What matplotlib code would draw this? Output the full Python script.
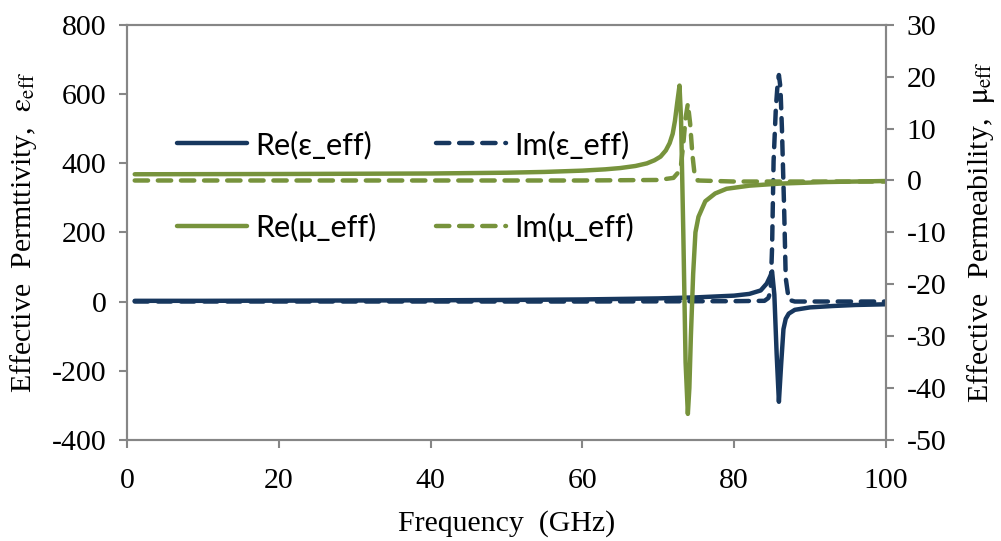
import matplotlib
matplotlib.use("Agg")
import matplotlib.pyplot as plt

plt.rcParams['font.family'] = ['Liberation Serif', 'DejaVu Serif']
plt.rcParams['mathtext.fontset'] = 'stix'
plt.rcParams['axes.unicode_minus'] = False

# permittivity (left axis)
f_re_eps = [1, 10, 20, 30, 40, 50, 60, 70, 75, 80, 82, 83.5, 84.3, 84.8, 85.0, 85.3, 85.6, 85.9,
            86.2, 86.5, 86.8, 87.2, 88, 90, 93, 96, 100]
re_eps = [2, 2, 2.5, 3, 3.5, 4.5, 6, 9, 12, 17, 22, 32, 52, 75, 87, 20, -150, -290,
          -180, -80, -50, -35, -24, -17, -13, -10, -8]

f_im_eps = [1, 20, 40, 60, 80, 84, 84.5, 84.8, 85.0, 85.2, 85.5, 85.7, 85.9, 86.1, 86.3,
            86.6, 86.8, 87.2, 88, 100]
im_eps = [0, 0, 0, 0, 1, 2, 10, 29, 155, 406, 560, 620, 655, 620, 500,
          260, 68, 5, 0, 0]

# permeability (right axis)
f_re_mu = [1, 20, 40, 50, 55, 60, 63, 65, 67, 68.5, 69.5, 70.3, 71.0, 71.5, 71.9, 72.2, 72.5,
           72.8, 73.0, 73.3, 73.6, 73.9, 74.1, 74.3, 74.6, 74.9, 75.3, 76.2, 77.5, 79, 82, 86, 92, 100]
re_mu = [1.2, 1.25, 1.35, 1.5, 1.65, 1.9, 2.15, 2.4, 2.8, 3.3, 3.9, 4.6, 5.8, 7.2, 9.0, 11.5, 15,
         18.3, 12, -10, -35, -45, -40, -30, -18, -10, -7, -4, -2.5, -1.6, -1.0, -0.6, -0.3, -0.1]

f_im_mu = [1, 20, 40, 60, 70, 72.0, 72.6, 73.0, 73.3, 73.6, 73.9, 74.2, 74.5, 74.8, 75.2, 80, 100]
im_mu = [0, 0, 0, 0, 0.1, 0.5, 1.5, 3, 7, 12, 14.8, 11, 5, 1, 0, -0.2, -0.2]

navy = '#17375E'
green = '#77933C'
grey = '#868686'

fig = plt.figure(figsize=(10.01, 5.41), dpi=100)
ax = fig.add_axes([0.127, 0.187, 0.758, 0.767])
ax2 = ax.twinx()

lw = 3.2
l1, = ax.plot(f_re_eps, re_eps, color=navy, lw=lw, solid_capstyle='round', solid_joinstyle='round')
l2, = ax.plot(f_im_eps, im_eps, color=navy, lw=lw, ls=(0, (3, 2.2)), dash_capstyle='round')
l3, = ax2.plot(f_re_mu, re_mu, color=green, lw=lw, solid_capstyle='round', solid_joinstyle='round')
l4, = ax2.plot(f_im_mu, im_mu, color=green, lw=lw, ls=(0, (3, 2.2)), dash_capstyle='round')

ax.set_xlim(0, 100)
ax.set_ylim(-400, 800)
ax2.set_ylim(-50, 30)
ax.set_xticks(range(0, 101, 20))
ax.set_yticks(range(-400, 801, 200))
ax2.set_yticks(range(-50, 31, 10))

for a in (ax, ax2):
    for s in a.spines.values():
        s.set_color(grey)
        s.set_linewidth(1.5)
    a.tick_params(labelsize=21.5, length=6, width=1.5, color=grey, pad=9)
ax.tick_params(axis='x', pad=14)

ax.set_xlabel('Frequency  (GHz)', fontsize=21.5, labelpad=12)
ax.set_ylabel(r'Effective  Permttivity,  $\mathrm{ε}_{\mathrm{eff}}$', fontsize=21.5, labelpad=9)
ax2.set_ylabel(r'Effective  Permeability,  $\mathrm{μ}_{\mathrm{eff}}$', fontsize=21.5, labelpad=13)

handles = [l1, l3, l2, l4]
labels = ['Re(ε_eff)', 'Re(μ_eff)', 'Im(ε_eff)', 'Im(μ_eff)']
leg = ax.legend(handles, labels, ncol=2, frameon=False, loc='upper left',
                bbox_to_anchor=(0.066, 0.746), prop={'family': 'Lato', 'size': 22},
                handlelength=2.3, columnspacing=1.95, labelspacing=1.75, handletextpad=0.25,
                borderpad=0, borderaxespad=0)

fig.savefig('out.png', dpi=100)
